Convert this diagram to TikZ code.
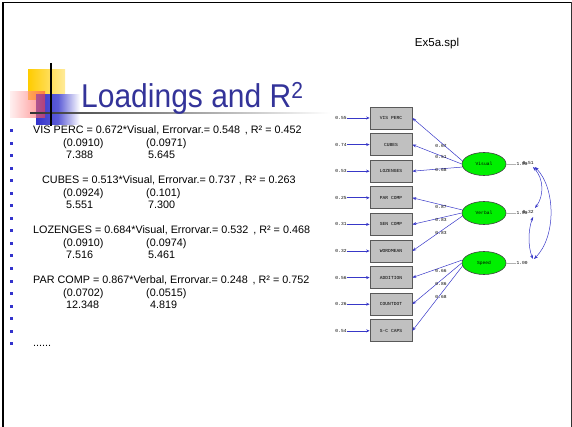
\documentclass[tikz,border=0pt]{standalone}
\usepackage{fontspec}
\setmainfont{Liberation Sans}
\newfontfamily\lisfont{Liberation Mono}
\usetikzlibrary{arrows.meta,shapes.geometric}
\definecolor{titleblue}{HTML}{333399}
\definecolor{bulletblue}{HTML}{3333CC}
\definecolor{pathblue}{HTML}{3838C8}
\definecolor{boxgray}{HTML}{C0C0C0}
\definecolor{latgreen}{HTML}{00F000}
\definecolor{decoyellow}{HTML}{FFCC00}
\tikzset{
  bodytxt/.style={anchor=mid west, inner sep=0pt, font=\fontsize{10.8}{13}\selectfont},
  bulletsq/.style={fill=bulletblue, minimum size=3pt, inner sep=0pt},
  obsbox/.style={draw=black!65, fill=boxgray, line width=0.7pt, minimum width=42pt, minimum height=22pt, inner sep=0pt, font=\lisfont\fontsize{4.6}{5}\selectfont},
  latent/.style={ellipse, draw=black!75, fill=latgreen, line width=0.6pt, minimum width=44pt, minimum height=23pt, inner sep=0pt, font=\lisfont\fontsize{4.6}{5}\selectfont},
  smalllbl/.style={inner sep=0.5pt, font=\lisfont\fontsize{4.6}{5}\selectfont},
  loadarrow/.style={draw=pathblue, line width=0.5pt, -{Stealth[length=4pt,width=3pt]}},
  errarrow/.style={draw=pathblue, line width=0.6pt, -{Stealth[length=3.5pt,width=3pt]}},
  covarrow/.style={draw=pathblue, line width=0.5pt, {Stealth[length=4pt,width=3pt]}-{Stealth[length=4pt,width=3pt]}},
  varline/.style={draw=black!30, line width=0.6pt},
}
\begin{document}
\begin{tikzpicture}[x=1pt,y=-1pt]
\useasboundingbox (0,0) rectangle (572,427);
% slide frame
\draw[black, line width=1.6pt] (3,427) -- (3,2.5) -- (571,2.5);
\draw[black!80, line width=0.8pt] (571,2.5) -- (571,427);
% file name
\node[inner sep=0pt, font=\fontsize{11.5}{13}\selectfont] (fname) at (437,44) {Ex5a.spl};
% title decoration
\shade[left color=decoyellow, right color=decoyellow!40] (28,70) rectangle (65,100);
\shade[left color=bulletblue, right color=white, middle color=bulletblue!80] (36,95) rectangle (80,125);
\shade[left color=red!10, right color=red!75, opacity=0.6] (10,92) rectangle (45,118);
\shade[left color=black!80, right color=white] (30,112.5) rectangle (330,113.5);
\draw[black, line width=1.3pt] (51,63) -- (51,126);
\node[anchor=base west, inner sep=0pt, text=titleblue, font=\fontsize{30}{32}\selectfont] (title) at (81,108) {\scalebox{1}[1.1]{Loadings and R\textsuperscript{2}}};
% bullets
\foreach \k in {0,...,17} {
  \node[bulletsq] (bul\k) at (11,131+12.5*\k) {};
}
% text lines
\node[bodytxt] (t0) at (33,131) {VIS PERC = 0.672*Visual, Errorvar.= 0.548\,\ , R² = 0.452};
\node[bodytxt] (t1a) at (63,143.5) {(0.0910)};
\node[bodytxt] (t1b) at (146,143.5) {(0.0971)};
\node[bodytxt] (t2a) at (66,156) {7.388};
\node[bodytxt] (t2b) at (148,156) {5.645};
\node[bodytxt] (t4) at (42,181) {CUBES = 0.513*Visual, Errorvar.= 0.737 , R² = 0.263};
\node[bodytxt] (t5a) at (63,193.5) {(0.0924)};
\node[bodytxt] (t5b) at (146,193.5) {(0.101)};
\node[bodytxt] (t6a) at (66,206) {5.551};
\node[bodytxt] (t6b) at (148,206) {7.300};
\node[bodytxt] (t8) at (33,231) {LOZENGES = 0.684*Visual, Errorvar.= 0.532\,\ , R² = 0.468};
\node[bodytxt] (t9a) at (63,243.5) {(0.0910)};
\node[bodytxt] (t9b) at (146,243.5) {(0.0974)};
\node[bodytxt] (t10a) at (66,256) {7.516};
\node[bodytxt] (t10b) at (148,256) {5.461};
\node[bodytxt] (t12) at (33,281) {PAR COMP = 0.867*Verbal, Errorvar.= 0.248\,\ , R² = 0.752};
\node[bodytxt] (t13a) at (63,293.5) {(0.0702)};
\node[bodytxt] (t13b) at (146,293.5) {(0.0515)};
\node[bodytxt] (t14a) at (66,306) {12.348};
\node[bodytxt] (t14b) at (150,306) {4.819};
\node[bodytxt] (t17) at (33,343.5) {......};
% observed variables
\foreach \n/\t/\e [count=\i from 0] in {b1/VIS PERC/0.55, b2/CUBES/0.74, b3/LOZENGES/0.53, b4/PAR COMP/0.25, b5/SEN COMP/0.31, b6/WORDMEAN/0.32, b7/ADDITION/0.56, b8/COUNTDOT/0.26, b9/S-C CAPS/0.54} {
  \node[obsbox] (\n) at (391,118+26.6*\i) {\t};
  \node[smalllbl] (e\n) at (341,118+26.6*\i) {\e};
  \draw[errarrow] (e\n.east) -- (\n.west);
}
% latent variables
\node[latent] (vis) at (484,164) {Visual};
\node[latent] (ver) at (484,213) {Verbal};
\node[latent] (spd) at (484,263) {Speed};
% loadings
\draw[loadarrow] (vis.172) -- (b1.east);
\draw[loadarrow] (vis.180) -- (b2.east);
\draw[loadarrow] (vis.188) -- (b3.east);
\draw[loadarrow] (ver.172) -- (b4.east);
\draw[loadarrow] (ver.180) -- (b5.east);
\draw[loadarrow] (ver.188) -- (b6.east);
\draw[loadarrow] (spd.172) -- (b7.east);
\draw[loadarrow] (spd.180) -- (b8.east);
\draw[loadarrow] (spd.188) -- (b9.east);
\node[smalllbl] (l1) at (441,146) {0.67};
\node[smalllbl] (l2) at (441,157) {0.51};
\node[smalllbl] (l3) at (441,170) {0.68};
\node[smalllbl] (l4) at (441,207) {0.87};
\node[smalllbl] (l5) at (441,220) {0.83};
\node[smalllbl] (l6) at (441,233) {0.83};
\node[smalllbl] (l7) at (441,271) {0.66};
\node[smalllbl] (l8) at (441,284) {0.86};
\node[smalllbl] (l9) at (441,297) {0.68};
% variances
\node[smalllbl, anchor=west] (v1) at (516,164) {1.00};
\node[smalllbl, anchor=west] (v2) at (516,213) {1.00};
\node[smalllbl, anchor=west] (v3) at (516,263) {1.00};
\draw[varline] (vis.east) -- (v1.west);
\draw[varline] (ver.east) -- (v2.west);
\draw[varline] (spd.east) -- (v3.west);
\node[smalllbl, anchor=west] (c1) at (522,162.5) {0.51};
\node[smalllbl, anchor=west] (c2) at (522,211.5) {0.32};
% covariances
\coordinate (a1) at (533,167);
\coordinate (a2) at (535,208);
\coordinate (a3) at (533,217);
\coordinate (a4) at (533,259);
\coordinate (a5) at (535,167);
\coordinate (a6) at (534,259);
\draw[covarrow] (a1) .. controls (544,179) and (544,196) .. (a2);
\draw[covarrow] (a3) .. controls (528,230) and (528,247) .. (a4);
\draw[covarrow] (a5) .. controls (556,189) and (556,237) .. (a6);
\end{tikzpicture}
\end{document}
